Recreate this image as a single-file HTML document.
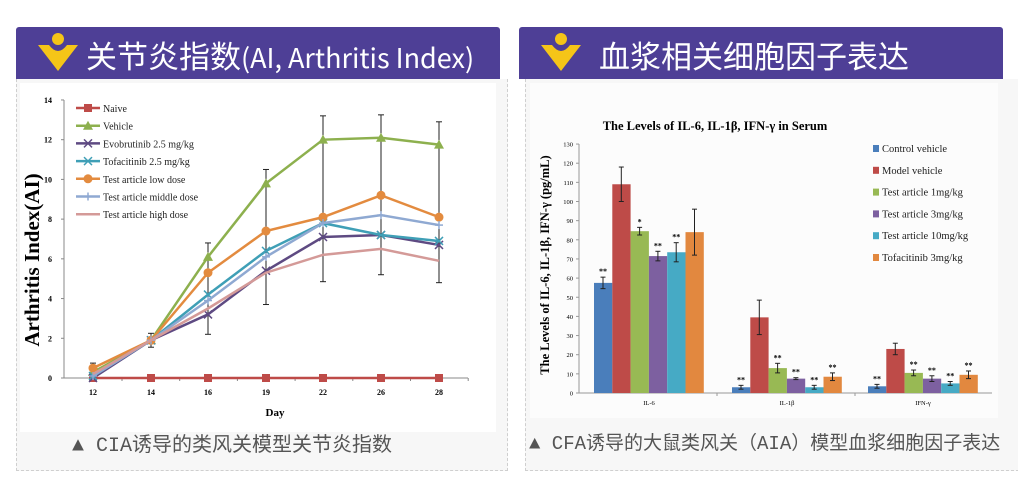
<!DOCTYPE html>
<html><head><meta charset="utf-8">
<style>
body{margin:0;width:1018px;height:487px;background:#fff;overflow:hidden;font-family:"Liberation Sans","Noto Sans CJK SC",sans-serif;position:relative}
.hdr{position:absolute;top:27px;height:52px;background:#4e3f96;border-radius:3px 3px 0 0;color:#fff}
.hdr .t{position:absolute;top:5px;font-size:31px;white-space:nowrap;font-family:"Noto Sans CJK SC","Liberation Sans",sans-serif}
.panel{position:absolute;top:79px;height:391px;background:#f7f7f7;border:1px dashed #cfcfcf;border-top:none}
.cap{position:absolute;top:428px;font-size:20px;color:#555;white-space:nowrap;font-family:"Liberation Mono","Noto Sans CJK SC",sans-serif}
svg text{font-family:"Liberation Serif",serif}
</style></head><body>
<div class="panel" style="left:16px;width:490px"></div>
<div class="panel" style="left:525px;width:492px"></div>
<div style="position:absolute;left:20px;top:83px;width:476px;height:349px;background:#fff"></div>
<div style="position:absolute;left:530px;top:83px;width:468px;height:335px;background:#fcfcfc"></div>
<div class="hdr" style="left:16px;width:484px">
<svg width="60" height="52" style="position:absolute;left:18px;top:0"><circle cx="24" cy="12" r="6" fill="#f5c518"/><path d="M4 18 L15 18 Q24 30 33 18 L44 18 L24 44 Z" fill="#f5c518"/></svg>
<div class="t" style="left:70px">关节炎指数<span style="font-size:27px">(AI, Arthritis Index)</span></div></div>
<div class="hdr" style="left:519px;width:484px">
<svg width="60" height="52" style="position:absolute;left:18px;top:0"><circle cx="24" cy="12" r="6" fill="#f5c518"/><path d="M4 18 L15 18 Q24 30 33 18 L44 18 L24 44 Z" fill="#f5c518"/></svg>
<div class="t" style="left:80px">血浆相关细胞因子表达</div></div>
<div class="cap" style="left:72px">▲ CIA诱导的类风关模型关节炎指数</div>
<div class="cap" style="left:529px;font-size:19px">▲ CFA诱导的大鼠类风关（AIA）模型血浆细胞因子表达</div>
<svg id="s" width="1018" height="487" style="position:absolute;left:0;top:0"></svg>
<script>
var o='';
function L(x1,y1,x2,y2,c,w){o+='<line x1="'+x1+'" y1="'+y1+'" x2="'+x2+'" y2="'+y2+'" stroke="'+c+'" stroke-width="'+(w||1)+'"/>';}
function T(x,y,s,sz,a,ex){o+='<text x="'+x+'" y="'+y+'" font-size="'+sz+'" text-anchor="'+(a||'start')+'" '+(ex||'')+'>'+s+'</text>';}
var X0=64,Y0=378,U=19.86,xs=[93,151,208,266,323,381,439];
L(X0,100,X0,Y0,'#888');L(X0,Y0,468,Y0,'#888');
for(var i=0;i<=7;i++){var y=Y0-i*2*U;L(X0-3,y,X0,y,'#888');T(52,y+3,i*2,8,'end','font-weight="bold" font-family="Liberation Sans"');}
var days=[12,14,16,19,22,26,28];
for(i=0;i<7;i++){T(xs[i],395,days[i],8,'middle','font-weight="bold" font-family="Liberation Sans"');L(122+i*57.7,Y0,122+i*57.7,Y0+3,'#888');}
T(275,416,'Day',11,'middle','font-weight="bold" font-family="Liberation Sans"');
T(39,260,'Arthritis Index(AI)',21,'middle','font-weight="bold" transform="rotate(-90 39 260)"');
var S=[['Naive','#be4b48',[0,0,0,0,0,0,0],'sq'],['Vehicle','#8db04e',[0.3,1.9,6.1,9.8,12,12.1,11.75],'tri'],['Evobrutinib 2.5 mg/kg','#5e4a82',[0,1.9,3.2,5.4,7.1,7.2,6.7],'x'],['Tofacitinib 2.5 mg/kg','#3f9fb6',[0.1,1.9,4.2,6.4,7.8,7.2,6.9],'x'],['Test article low dose','#e38b3f',[0.5,1.9,5.3,7.4,8.1,9.2,8.1],'c'],['Test article middle dose','#8fa9d2',[0.1,1.9,3.9,6.1,7.8,8.2,7.7],'p'],['Test article high dose','#d49a98',[0.2,1.9,3.5,5.3,6.2,6.5,5.9],'n']];
var eb=[[1,1.55,2.25],[2,2.2,6.8],[3,3.7,10.5],[4,4.85,13.2],[5,5.2,13.25],[6,4.8,12.9],[0,-0.1,0.75]];
eb.forEach(function(e){var x=xs[e[0]];L(x,Y0-e[1]*U,x,Y0-e[2]*U,'#222');L(x-3,Y0-e[1]*U,x+3,Y0-e[1]*U,'#222');L(x-3,Y0-e[2]*U,x+3,Y0-e[2]*U,'#222');});
function mk(x,y,t,c){if(t=='sq')o+='<rect x="'+(x-4)+'" y="'+(y-4)+'" width="8" height="8" fill="'+c+'"/>';else if(t=='tri')o+='<path d="M'+x+' '+(y-5)+'L'+(x+5)+' '+(y+4)+'L'+(x-5)+' '+(y+4)+'Z" fill="'+c+'"/>';else if(t=='c')o+='<circle cx="'+x+'" cy="'+y+'" r="4.5" fill="'+c+'"/>';else if(t=='x'){L(x-4,y-4,x+4,y+4,c,1.5);L(x-4,y+4,x+4,y-4,c,1.5);}else if(t=='p'){L(x-4,y,x+4,y,c,1.5);L(x,y-4,x,y+4,c,1.5);}}
S.forEach(function(s,k){var p=s[2].map(function(v,i){return xs[i]+','+(Y0-v*U)}).join(' ');o+='<polyline points="'+p+'" fill="none" stroke="'+s[1]+'" stroke-width="2.5"/>';s[2].forEach(function(v,i){mk(xs[i],Y0-v*U,s[3],s[1]);});
var ly=108+k*17.7;L(76,ly,100,ly,s[1],2.5);mk(88,ly,s[3],s[1]);T(103,ly+4,s[0],10,'start','fill="#222"');});
var RX=579,RY=393,RU=1.915;
T(715,130,'The Levels of IL-6, IL-1β, IFN-γ in Serum',12.5,'middle','font-weight="bold"');
L(RX,144,RX,RY,'#999');L(RX,RY,992,RY,'#999');
for(i=0;i<=13;i++){var y=RY-i*10*RU;L(RX-3,y,RX,y,'#999');T(RX-6,y+2.5,i*10,6.5,'end');}
L(717,RY,717,RY+3,'#999');L(855,RY,855,RY+3,'#999');
T(549,265,'The Levels of IL-6, IL-1β, IFN-γ  (pg/mL)',12.5,'middle','font-weight="bold" transform="rotate(-90 549 265)"');
var C=['#4a7ebb','#be4b48','#98b954','#7d60a0','#46aac5','#e2883f'];
var G=[[57.5,109,84.5,71.5,73.5,84],[3,39.5,13,7.5,3,8.5],[3.5,23,10.5,7.5,5,9.5]];
var E=[[3,9,2,2.5,5,12],[1,9,2.5,0.5,1,2],[1,3,1.5,1.5,1,2]];
var St=[['**','','*','**','**',''],['**','','**','**','**','**'],['**','','**','**','**','**']];
var gx=[594,732,868],names=['IL-6','IL-1β','IFN-γ'];
G.forEach(function(g,j){g.forEach(function(v,i){var x=gx[j]+i*18.3,y=RY-v*RU;o+='<rect x="'+x+'" y="'+y+'" width="18.3" height="'+(v*RU)+'" fill="'+C[i]+'"/>';var cx=x+9,e=E[j][i]*RU;L(cx,y-e,cx,y+e,'#222');L(cx-2.5,y-e,cx+2.5,y-e,'#222');L(cx-2.5,y+e,cx+2.5,y+e,'#222');if(St[j][i])T(cx,y-e-3,St[j][i],8,'middle','font-weight="bold"');});T(gx[j]+55,405,names[j],6.5,'middle');});
var LN=['Control vehicle','Model vehicle','Test article 1mg/kg','Test article 3mg/kg','Test article 10mg/kg','Tofacitinib 3mg/kg'];
LN.forEach(function(n,i){var y=150+i*21.8;o+='<rect x="873" y="'+(y-5)+'" width="6" height="7" fill="'+C[i]+'"/>';T(882,y+2,n,10.5,'start','fill="#222"');});
document.getElementById('s').innerHTML=o;
</script>
</body></html>
